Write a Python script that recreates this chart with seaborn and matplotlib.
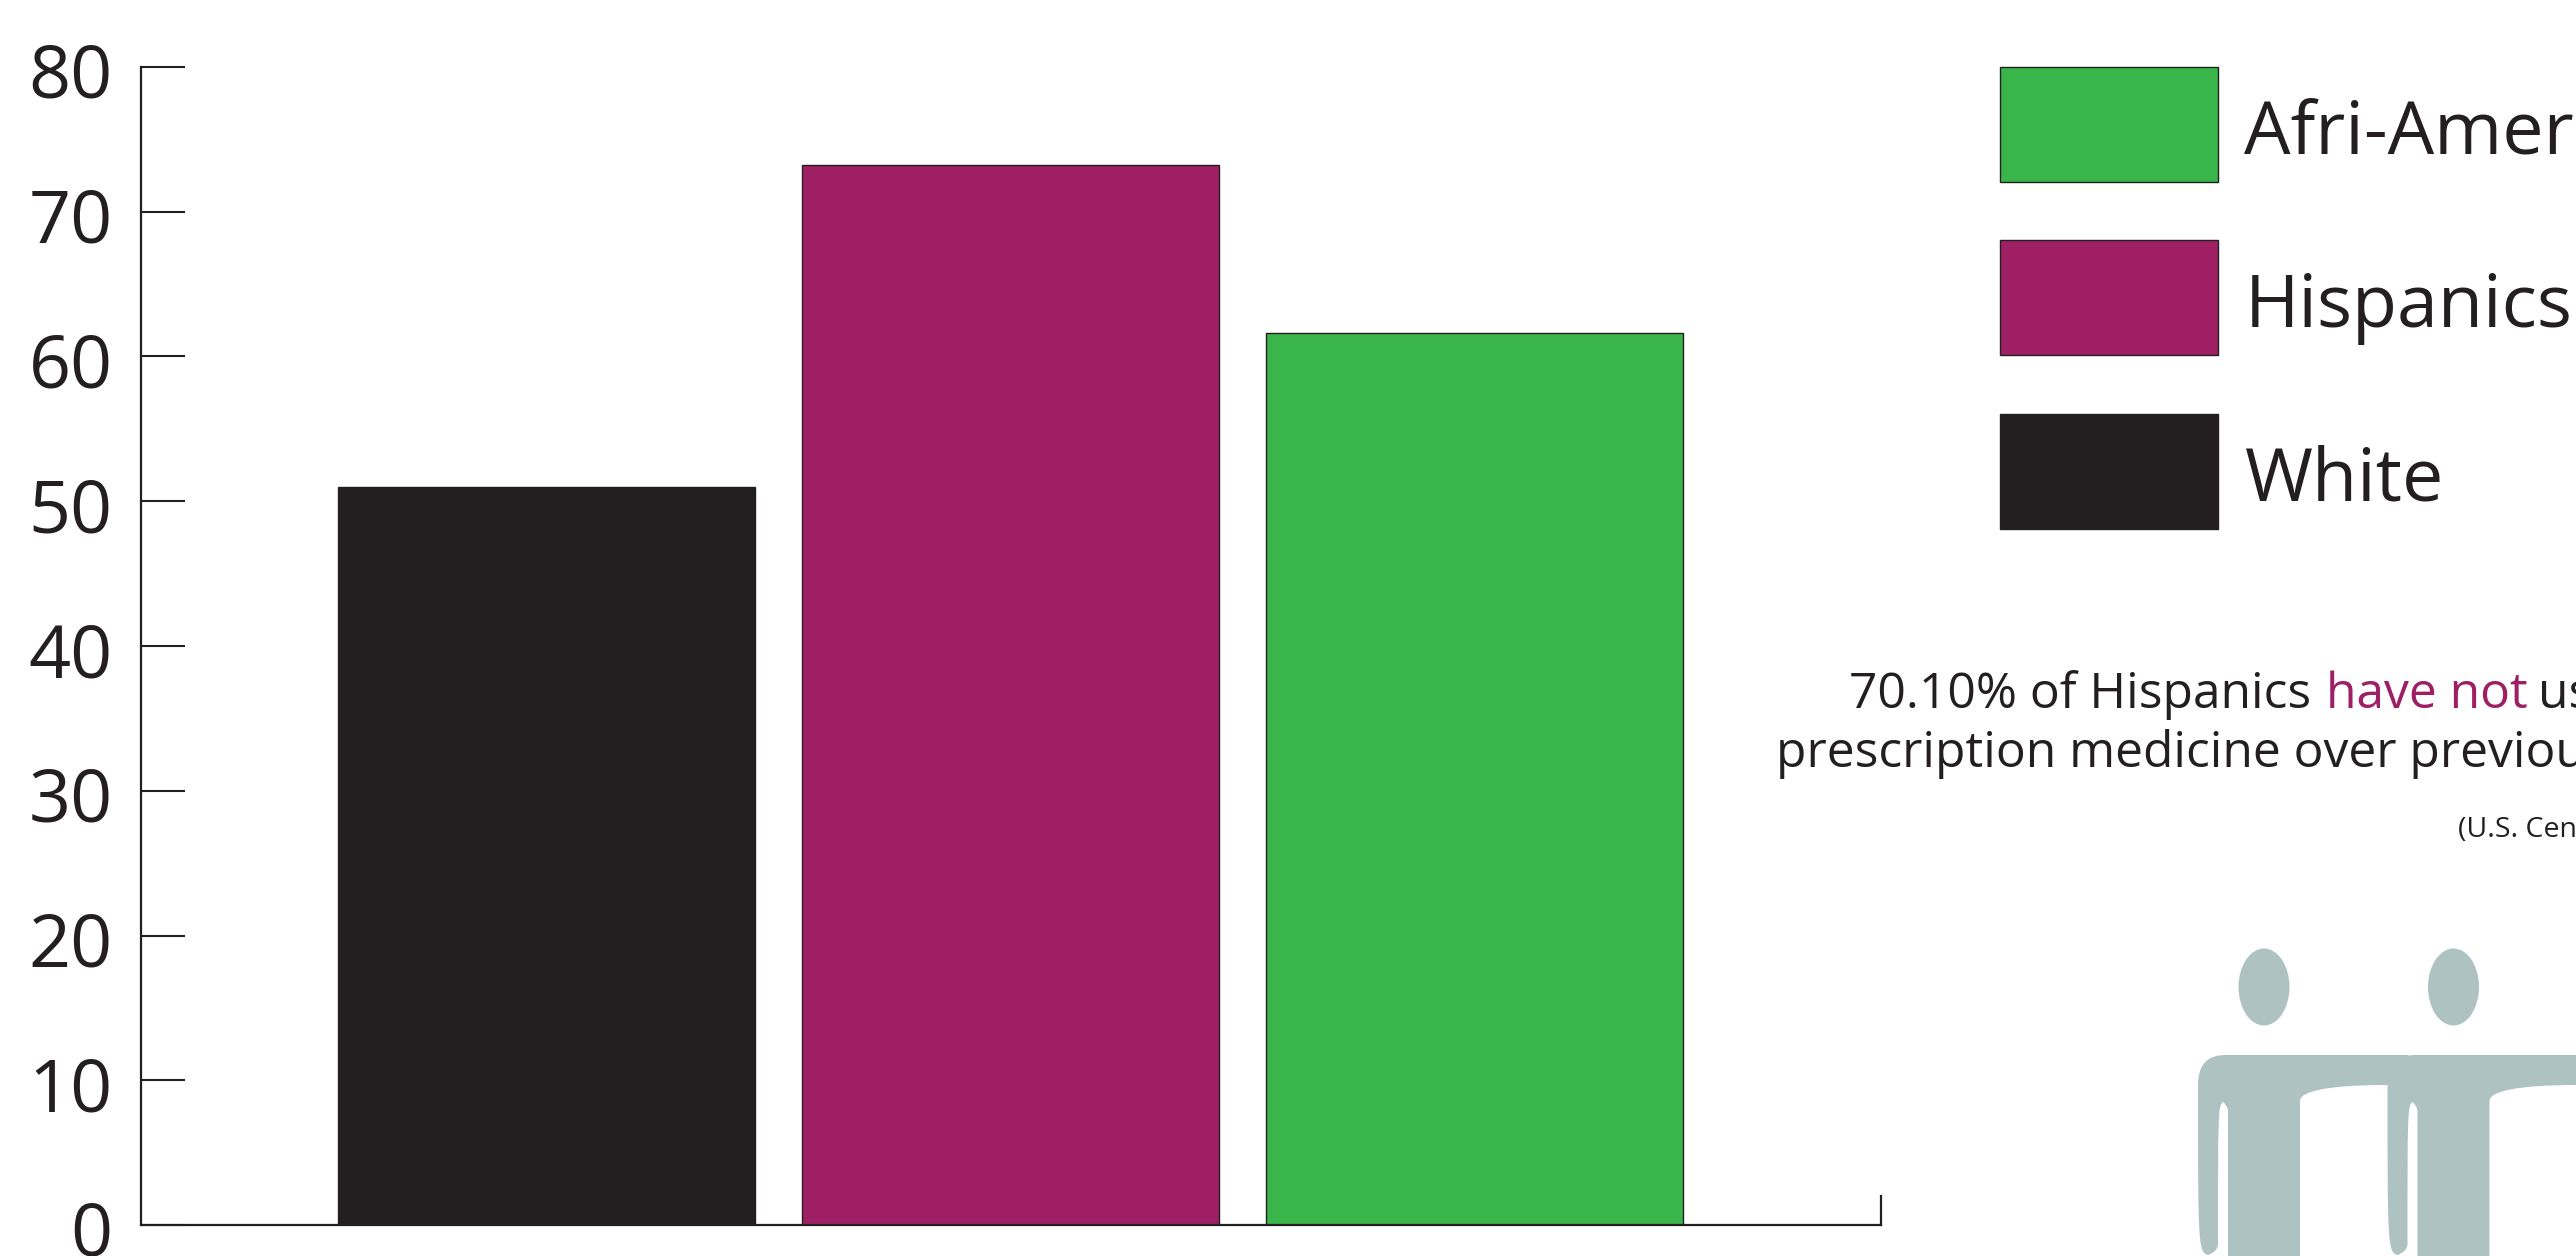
import matplotlib as mpl
mpl.use('Agg')
import matplotlib.pyplot as plt
import seaborn as sns
from matplotlib.patches import Patch, Ellipse, PathPatch
from matplotlib.path import Path
from matplotlib.transforms import ScaledTranslation

groups = ['White', 'Hispanics', 'Afri-American']
percent = [51.0, 73.2, 61.6]
yticks = [0, 10, 20, 30, 40, 50, 60, 70, 80]
legend_order = ['Afri-American', 'Hispanics', 'White']

INK = '#231f20'
colors = {'White': '#231f20', 'Hispanics': '#9e1f63', 'Afri-American': '#39b54a'}
PERSON = '#aec3c1'

W, H = 2576, 1256

sns.set_style('white')
plt.rcParams['font.family'] = ['Open Sans', 'DejaVu Sans']

fig = plt.figure(figsize=(W / 100, H / 100), dpi=100, facecolor='white')
ax = fig.add_axes([140.5 / W, 31 / H, (1881 - 140.5) / W, 1158 / H])

sns.barplot(x=groups, y=percent, hue=groups, palette=colors, order=groups, saturation=1,
            width=0.9, edgecolor=INK, linewidth=1, legend=False, ax=ax)

ax.set_xlim(-0.875, 2.876)
ax.set_ylim(0, 80)
ax.set_yticks(yticks)
ax.set_xticks([])
ax.tick_params(axis='y', direction='in', length=31.7, width=1.5, pad=20,
               labelsize=53, labelcolor=INK, color=INK, left=True)
# the labels sit a little under their ticks
for lab in ax.get_yticklabels():
    lab.set_transform(lab.get_transform() + ScaledTranslation(0, -3 / 100, fig.dpi_scale_trans))

ax.spines['top'].set_visible(False)
for s in ['left', 'bottom', 'right']:
    ax.spines[s].set_color(INK)
    ax.spines[s].set_linewidth(1.6)
ax.spines['right'].set_bounds(0, 2)

# legend
fs = 53
handles = [Patch(facecolor=colors[g], edgecolor=INK, linewidth=1, label=g) for g in legend_order]
leg = fig.legend(handles=handles, loc='upper left', bbox_to_anchor=(2000 / W, 1 - 67 / H),
                 frameon=False, fontsize=fs, labelcolor=INK, borderpad=0, borderaxespad=0,
                 handlelength=218 * 0.72 / fs, handleheight=2.03,
                 handletextpad=0.36, labelspacing=0.79)
# labels sit a bit lower than the swatch centres
for t in leg.get_texts():
    t.set_position((0, -6))


def txt(x, y, s, size, color=INK):
    fig.text(x / W, 1 - y / H, s, fontsize=size, color=color, ha='left', va='baseline')


txt(1849, 708, '70.10% of Hispanics', 35.8)
txt(2326, 708, 'have not', 35.8, colors['Hispanics'])
txt(2538, 708, 'used', 35.8)
txt(1776, 767, 'prescription medicine over previous year', 35.8)
txt(2458, 837, '(U.S. Census)', 20.5)


def fx(x, y):
    return x / W, 1 - y / H


def person(cx):
    fig.add_artist(Ellipse(fx(cx, 987), 51 / W, 77 / H, facecolor=PERSON, edgecolor='none',
                           transform=fig.transFigure))
    verts = [
        (cx - 66, 1085), (cx - 66, 1055), (cx - 39, 1055),
        (cx + 144, 1055), (cx + 144, 1085), (cx + 123, 1085),
        (cx + 60, 1085), (cx + 36, 1092), (cx + 36, 1101),
        (cx + 36, 1260), (cx - 36, 1260), (cx - 36, 1112),
        (cx - 36, 1106), (cx - 41, 1102), (cx - 41, 1102),
        (cx - 46, 1106), (cx - 46, 1112), (cx - 46, 1244),
        (cx - 46, 1252), (cx - 56, 1255), (cx - 56, 1255),
        (cx - 66, 1252), (cx - 66, 1244), (cx - 66, 1085),
    ]
    codes = [Path.MOVETO, Path.CURVE3, Path.CURVE3,
             Path.LINETO, Path.LINETO, Path.LINETO,
             Path.CURVE4, Path.CURVE4, Path.CURVE4,
             Path.LINETO, Path.LINETO, Path.LINETO,
             Path.CURVE4, Path.CURVE4, Path.CURVE4,
             Path.CURVE4, Path.CURVE4, Path.LINETO,
             Path.CURVE4, Path.CURVE4, Path.CURVE4,
             Path.CURVE4, Path.CURVE4, Path.LINETO]
    body = Path([fx(*v) for v in verts], codes)
    fig.add_artist(PathPatch(body, facecolor=PERSON, edgecolor='none', transform=fig.transFigure))


person(2264)
person(2453.5)

fig.savefig('out.png', dpi=100)
